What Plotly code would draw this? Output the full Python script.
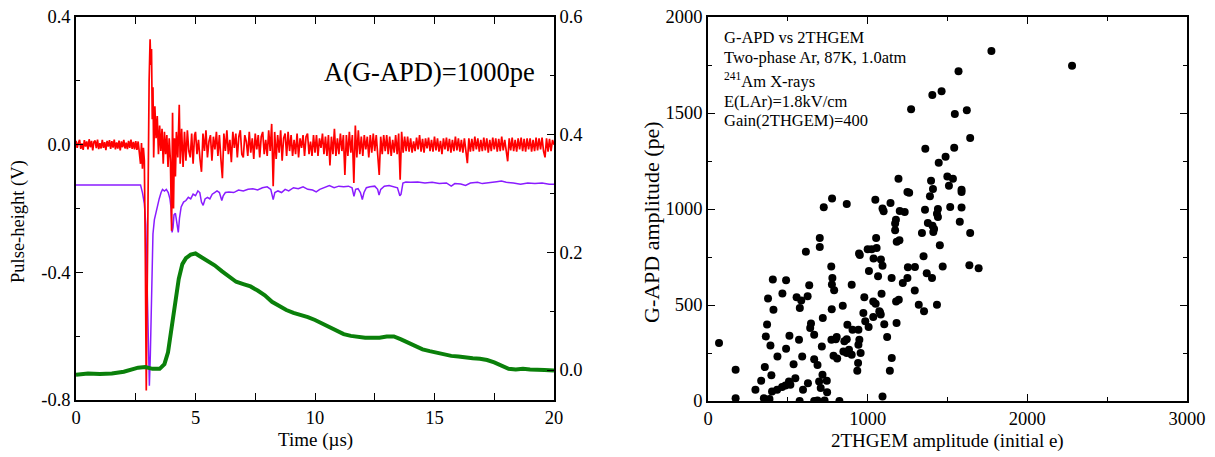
import plotly.graph_objects as go

# ---------------- Left panel: waveforms ----------------
# red trace, pre-trigger baseline sampled every 0.05 us from t=0
red_pre_dt = 0.05
red_pre_v = [0.012,-0.010,0.006,0.015,-0.013,0.004,-0.016,0.014,-0.006,0.010,-0.015,0.017,-0.008,0.012,-0.018,
             0.009,0.013,-0.011,0.016,-0.014,0.005,-0.012,0.015,-0.010,0.008,-0.017,0.012,-0.006,0.014,-0.013,
             0.011,-0.009,0.016,-0.015,0.007,-0.012,0.013,-0.018,0.010,-0.008,0.015,-0.012,0.006,-0.014,0.012,
             -0.010,0.016,-0.013,0.009,-0.015,0.011,-0.016,0.010,-0.022]
# red trace, pulse region (irregular sampling)
red_pulse_t = [2.70,2.74,2.78,2.82,2.86,2.90,2.94,2.98,3.02,3.06,3.10,3.13,3.16,3.19,3.22,3.25,3.30,3.35,3.40,
               3.45,3.50,3.55,3.60,3.65,3.70,3.75,3.80,3.85,3.90,3.95,4.00,4.04,4.08,4.12,4.16,4.20,4.26,4.32,
               4.36,4.42,4.48,4.54,4.60,4.66,4.72,4.78,4.84,4.90,4.96]
red_pulse_v = [-0.06,0.005,-0.075,-0.01,-0.05,-0.35,-0.77,-0.45,-0.05,0.20,0.33,0.25,0.30,0.08,0.18,-0.04,0.12,
               0.02,0.09,-0.03,0.06,-0.02,0.05,-0.06,0.04,-0.03,0.03,-0.07,0.02,-0.05,-0.27,0.10,-0.20,0.02,-0.10,
               0.04,-0.04,0.125,-0.06,0.05,-0.07,0.04,-0.05,0.045,-0.02,-0.04,0.035,-0.06,0.03]
# red trace tail, 16 samples per microsecond, one row per microsecond from 5 us to 19 us
red_tail_start = 5.0
red_tail_dt = 0.0625
red_tail_rows = [
    [0.040,-0.030,0.015,-0.045,-0.085,0.035,-0.020,0.045,-0.040,0.010,0.030,-0.050,0.025,-0.015,0.040,-0.035],
    [0.030,-0.045,-0.105,0.035,-0.020,0.045,-0.030,0.015,-0.055,0.040,-0.010,0.035,-0.040,0.025,0.045,-0.030],
    [-0.040,0.030,0.010,-0.035,0.040,-0.025,0.020,-0.045,0.035,-0.015,0.030,-0.040,0.025,0.040,-0.030,0.015],
    [-0.035,0.045,-0.020,0.065,-0.130,0.040,-0.045,0.030,-0.025,0.045,-0.050,0.020,0.035,-0.035,0.040,-0.020],
    [0.030,-0.035,0.015,-0.030,0.035,-0.040,0.020,-0.010,0.030,-0.035,0.025,0.035,-0.030,0.010,-0.035,0.030],
    [-0.025,0.030,-0.035,0.020,-0.010,0.035,-0.030,0.025,-0.035,0.030,-0.065,0.025,-0.030,0.050,-0.035,0.020],
    [-0.030,0.035,-0.020,0.030,-0.095,0.030,-0.035,0.040,-0.025,0.030,-0.120,0.060,-0.040,0.045,-0.030,0.025],
    [-0.035,0.030,-0.015,0.025,-0.040,0.030,-0.025,0.035,-0.020,0.030,-0.030,-0.095,0.025,-0.030,0.030,-0.020],
    [0.030,-0.030,0.025,-0.035,0.015,-0.025,0.030,-0.030,0.035,-0.110,0.040,-0.025,0.025,-0.020,0.025,-0.022],
    [0.020,-0.025,0.010,-0.020,0.022,-0.015,0.030,-0.022,0.018,-0.025,0.020,-0.012,0.022,-0.020,0.015,-0.022],
    [0.025,-0.018,0.020,-0.022,0.012,-0.030,0.020,-0.015,0.022,-0.020,0.018,-0.025,0.015,-0.020,0.025,-0.018],
    [0.020,-0.022,0.015,-0.025,0.020,-0.015,-0.058,0.020,-0.022,0.018,-0.020,0.025,-0.015,0.020,-0.022,0.015],
    [-0.020,0.022,-0.018,0.020,-0.025,0.015,-0.020,0.022,-0.015,0.020,-0.022,0.018,-0.020,0.025,-0.018,0.015],
    [-0.022,-0.052,0.020,-0.018,0.022,-0.020,0.015,-0.022,0.020,-0.015,0.022,-0.020,0.018,-0.022,0.020,-0.015],
    [0.020,-0.022,0.015,-0.020,0.022,-0.018,0.020,-0.015,0.022,-0.020,-0.040,0.020,-0.022,0.018,-0.020,0.015],
    [0.0],
]

purple_t = [0.0,2.70,2.78,2.86,2.92,2.98,3.03,3.07,3.11,3.16,3.22,3.28,3.34,3.40,3.48,3.56,3.62,3.70,3.78,3.86,
            3.93,3.98,4.02,4.06,4.10,4.16,4.22,4.28,4.33,4.40,4.50,4.60,4.70,4.80,4.90,5.00,5.10,5.18,5.25,5.32,
            5.40,5.50,5.60,5.70,5.80,5.90,6.00,6.10,6.16,6.25,6.40,6.60,6.80,7.00,7.20,7.40,7.60,7.80,8.00,8.15,
            8.25,8.32,8.45,8.60,8.75,8.90,9.10,9.30,9.50,9.70,9.90,10.05,10.20,10.40,10.60,10.80,11.00,11.20,11.40,
            11.55,11.63,11.70,11.80,11.90,11.98,12.05,12.15,12.30,12.50,12.62,12.68,12.75,12.90,13.10,13.30,13.45,
            13.55,13.60,13.68,13.80,14.00,14.30,14.60,14.90,15.20,15.50,15.70,15.85,16.10,16.30,16.50,16.80,17.00,
            17.30,17.60,17.80,18.00,18.30,18.60,18.90,19.20,19.50,19.80,20.00]
purple_v = [-0.126,-0.126,-0.150,-0.185,-0.25,-0.50,-0.72,-0.755,-0.66,-0.42,-0.28,-0.235,-0.215,-0.19,-0.17,-0.15,
            -0.14,-0.145,-0.14,-0.15,-0.17,-0.20,-0.275,-0.26,-0.22,-0.215,-0.24,-0.275,-0.23,-0.195,-0.18,-0.175,
            -0.165,-0.17,-0.155,-0.16,-0.145,-0.15,-0.18,-0.19,-0.17,-0.165,-0.17,-0.155,-0.15,-0.145,-0.15,-0.175,
            -0.16,-0.15,-0.148,-0.15,-0.142,-0.145,-0.14,-0.138,-0.142,-0.135,-0.132,-0.14,-0.172,-0.15,-0.145,-0.15,
            -0.14,-0.145,-0.135,-0.138,-0.132,-0.14,-0.142,-0.148,-0.14,-0.133,-0.128,-0.135,-0.13,-0.132,-0.13,
            -0.135,-0.162,-0.14,-0.138,-0.15,-0.172,-0.15,-0.135,-0.132,-0.13,-0.14,-0.158,-0.14,-0.13,-0.128,-0.132,
            -0.135,-0.16,-0.155,-0.12,-0.117,-0.118,-0.117,-0.12,-0.118,-0.122,-0.12,-0.13,-0.122,-0.123,-0.128,-0.12,
            -0.118,-0.122,-0.12,-0.116,-0.114,-0.118,-0.12,-0.124,-0.12,-0.122,-0.12,-0.124,-0.124]

green_t = [0.0,0.5,1.0,1.5,2.0,2.3,2.6,2.9,3.2,3.5,3.7,3.85,4.0,4.15,4.3,4.45,4.6,4.8,5.0,5.2,5.5,5.8,6.1,6.4,
           6.7,7.0,7.3,7.6,7.9,8.2,8.5,8.8,9.1,9.4,9.7,10.0,10.3,10.6,10.9,11.2,11.5,11.8,12.1,12.4,12.7,13.0,13.3,
           13.6,13.9,14.2,14.5,14.8,15.1,15.4,15.7,16.0,16.3,16.6,16.9,17.2,17.5,17.8,18.1,18.4,18.7,19.0,19.3,19.6,20.0]
green_v = [-0.008,-0.006,-0.007,-0.006,-0.003,0.001,0.004,0.005,0.002,0.002,0.01,0.03,0.07,0.115,0.155,0.18,0.19,
           0.196,0.198,0.193,0.186,0.178,0.168,0.158,0.15,0.146,0.142,0.135,0.127,0.116,0.108,0.102,0.097,0.094,0.09,
           0.085,0.079,0.072,0.066,0.061,0.058,0.056,0.055,0.055,0.055,0.057,0.057,0.052,0.046,0.04,0.035,0.032,0.029,
           0.026,0.024,0.023,0.021,0.02,0.019,0.017,0.013,0.007,0.002,0.001,0.002,0.001,0.001,0.0,-0.001]

left_y_ticks = [0.4, 0.0, -0.4, -0.8]
left_y_text = ["0.4", "0.0", "-0.4", "-0.8"]
right_y_ticks = [0.0, 0.2, 0.4, 0.6]
right_y_text = ["0.0", "0.2", "0.4", "0.6"]
time_ticks = [0, 5, 10, 15, 20]

# ---------------- Right panel: scatter ----------------
thgem_e = [1775,2280,1569,1405,1463,1272,1546,1621,1642,1361,1542,1488,1445,1193,1397,1499,1534,1509,1588,1588,
           1409,1390,1249,1260,1048,1143,777,869,725,1093,1100,1201,1232,1359,1440,1434,1440,1517,1588,
           1577,1377,1406,1416,1411,1340,1642,1177,1172,1172,1182,1199,1452,1053,700,700,1000,1025,1056,946,951,
           1037,1083,1093,1008,1350,1252,1296,1470,1637,1695,1065,1150,1249,1370,1403,1220,900,772,779,776,790,
           613,634,624,555,584,575,406,489,466,376,410,370,362,391,435,356,333,297,350,385,397,401,433,464,489,
           485,507,516,536,547,510,570,590,595,626,574,665,686,730,665,686,665,640,645,713,696,717,706,746,744,
           719,773,800,806,786,809,775,823,844,854,869,848,869,883,900,873,905,942,948,942,956,940,935,973,979,
           985,1006,1035,1035,1050,1077,1073,1082,1087,1104,1122,1151,1139,1093,1178,1195,1181,1295,1320,1353,
           1434,69,173,173]
gapd_pe = [1823,1746,1718,1594,1613,1519,1495,1514,1370,1314,1319,1272,1241,1157,1147,1169,1157,1121,1100,1088,
           1104,1066,1088,1084,1048,1031,1055,1026,1009,1002,988,989,984,996,1000,975,958,1010,1008,
           934,927,913,896,880,875,875,944,924,889,830,837,811,849,849,802,790,790,797,768,760,
           742,737,705,677,754,696,698,700,707,692,650,641,640,665,641,614,606,700,640,607,577,
           777,603,546,540,523,485,633,629,560,534,475,399,336,289,232,177,106,59,14,10,134,50,59,73,272,
           81,102,84,192,119,340,319,232,59,93,0,0,2,2,218,187,345,380,404,284,102,137,68,45,106,
           432,319,322,333,236,222,478,0,496,311,322,258,250,267,241,397,371,371,319,293,250,198,158,458,540,
           415,385,437,518,506,462,468,450,558,400,333,224,158,24,518,527,406,576,501,467,
           501,302,163,14]

# assemble the red trace from its pieces (sample times follow the scope's sampling grid)
red_t, red_v = [], []
for i, v in enumerate(red_pre_v):
    red_t.append(i * red_pre_dt)
    red_v.append(v)
red_t += red_pulse_t
red_v += red_pulse_v
for r, row in enumerate(red_tail_rows):
    for i, v in enumerate(row):
        red_t.append(red_tail_start + r + i * red_tail_dt)
        red_v.append(v)

FONT = "Liberation Serif, Times New Roman, serif"
W, H = 1215, 457

def px(x):
    return x / W

def py(y):
    return 1 - y / H

fig = go.Figure()
fig.add_trace(go.Scatter(x=green_t, y=green_v, mode="lines", line=dict(color="#0a800a", width=4),
                         xaxis="x", yaxis="y2", showlegend=False))
fig.add_trace(go.Scatter(x=purple_t, y=purple_v, mode="lines", line=dict(color="#8a1cff", width=1.5),
                         xaxis="x", yaxis="y", showlegend=False))
fig.add_trace(go.Scatter(x=red_t, y=red_v, mode="lines", line=dict(color="#ff0000", width=1.7),
                         xaxis="x", yaxis="y", showlegend=False))
fig.add_trace(go.Scatter(x=thgem_e, y=gapd_pe, mode="markers",
                         marker=dict(color="black", size=8, line=dict(width=0)),
                         xaxis="x2", yaxis="y3", showlegend=False))

TICKFONT = dict(family=FONT, size=18.5, color="black")
axis_common = dict(showline=True, linecolor="black", linewidth=1.5, ticks="inside", ticklen=7,
                   tickwidth=1.2, tickcolor="black", showgrid=False, zeroline=False, automargin=False,
                   tickfont=TICKFONT)

ydom = [py(400), py(17)]
fig.update_layout(
    template="none",
    width=W, height=H, margin=dict(l=0, r=0, t=0, b=0, pad=0),
    font=TICKFONT,
    paper_bgcolor="white", plot_bgcolor="white",
)
fig.update_layout(
    xaxis=dict(domain=[px(76), px(554)], range=[0, 20], tickvals=time_ticks, mirror="allticks",
               minor=dict(ticks="inside", ticklen=4, dtick=2.5, tickcolor="black"), anchor="y",
               **axis_common),
    yaxis=dict(domain=ydom, range=[-0.8, 0.4], tickvals=left_y_ticks, ticktext=left_y_text,
               minor=dict(ticks="inside", ticklen=4, dtick=0.2, tickcolor="black"), anchor="x",
               **axis_common),
    yaxis2=dict(domain=ydom, range=[-0.051, 0.6], tickvals=right_y_ticks, ticktext=right_y_text,
                overlaying="y", side="right", anchor="x",
                minor=dict(ticks="inside", ticklen=4, dtick=0.1, tickcolor="black"), **axis_common),
    xaxis2=dict(domain=[px(708), px(1187)], range=[0, 3000], dtick=1000, mirror="allticks", anchor="y3",
                minor=dict(ticks="inside", ticklen=4, dtick=500, tickcolor="black"), **axis_common),
    yaxis3=dict(domain=[py(401), py(17)], range=[0, 2000], dtick=500, mirror="allticks", anchor="x2",
                minor=dict(ticks="inside", ticklen=4, dtick=250, tickcolor="black"), **axis_common),
)

def ann(text, x, y, size, xanchor="center", yanchor="middle", angle=0):
    fig.add_annotation(text=text, x=px(x), y=py(y), xref="paper", yref="paper", showarrow=False,
                       xanchor=xanchor, yanchor=yanchor, textangle=angle,
                       font=dict(family=FONT, size=size, color="black"))

ann("Time (µs)", 315, 440, 19)
ann("Pulse-height (V)", 18, 222, 18.5, angle=-90)
ann("A(G-APD)=1000pe", 537, 72, 26.5, xanchor="right")
ann("2THGEM amplitude (initial e)", 947, 441, 19)
ann("G-APD amplitude (pe)", 651, 222, 22, angle=-90)

info_lines = ["G-APD vs 2THGEM", "Two-phase Ar, 87K, 1.0atm", "<sup>241</sup>Am X-rays",
              "E(LAr)=1.8kV/cm", "Gain(2THGEM)=400"]
info_y = [37, 57, 80, 101, 120]
for t, yy in zip(info_lines, info_y):
    ann(t, 722, yy, 16.5, xanchor="left")

fig.write_html("out.html", config={"displayModeBar": False},
               post_script="document.body.style.margin='0';document.body.style.padding='0';")
